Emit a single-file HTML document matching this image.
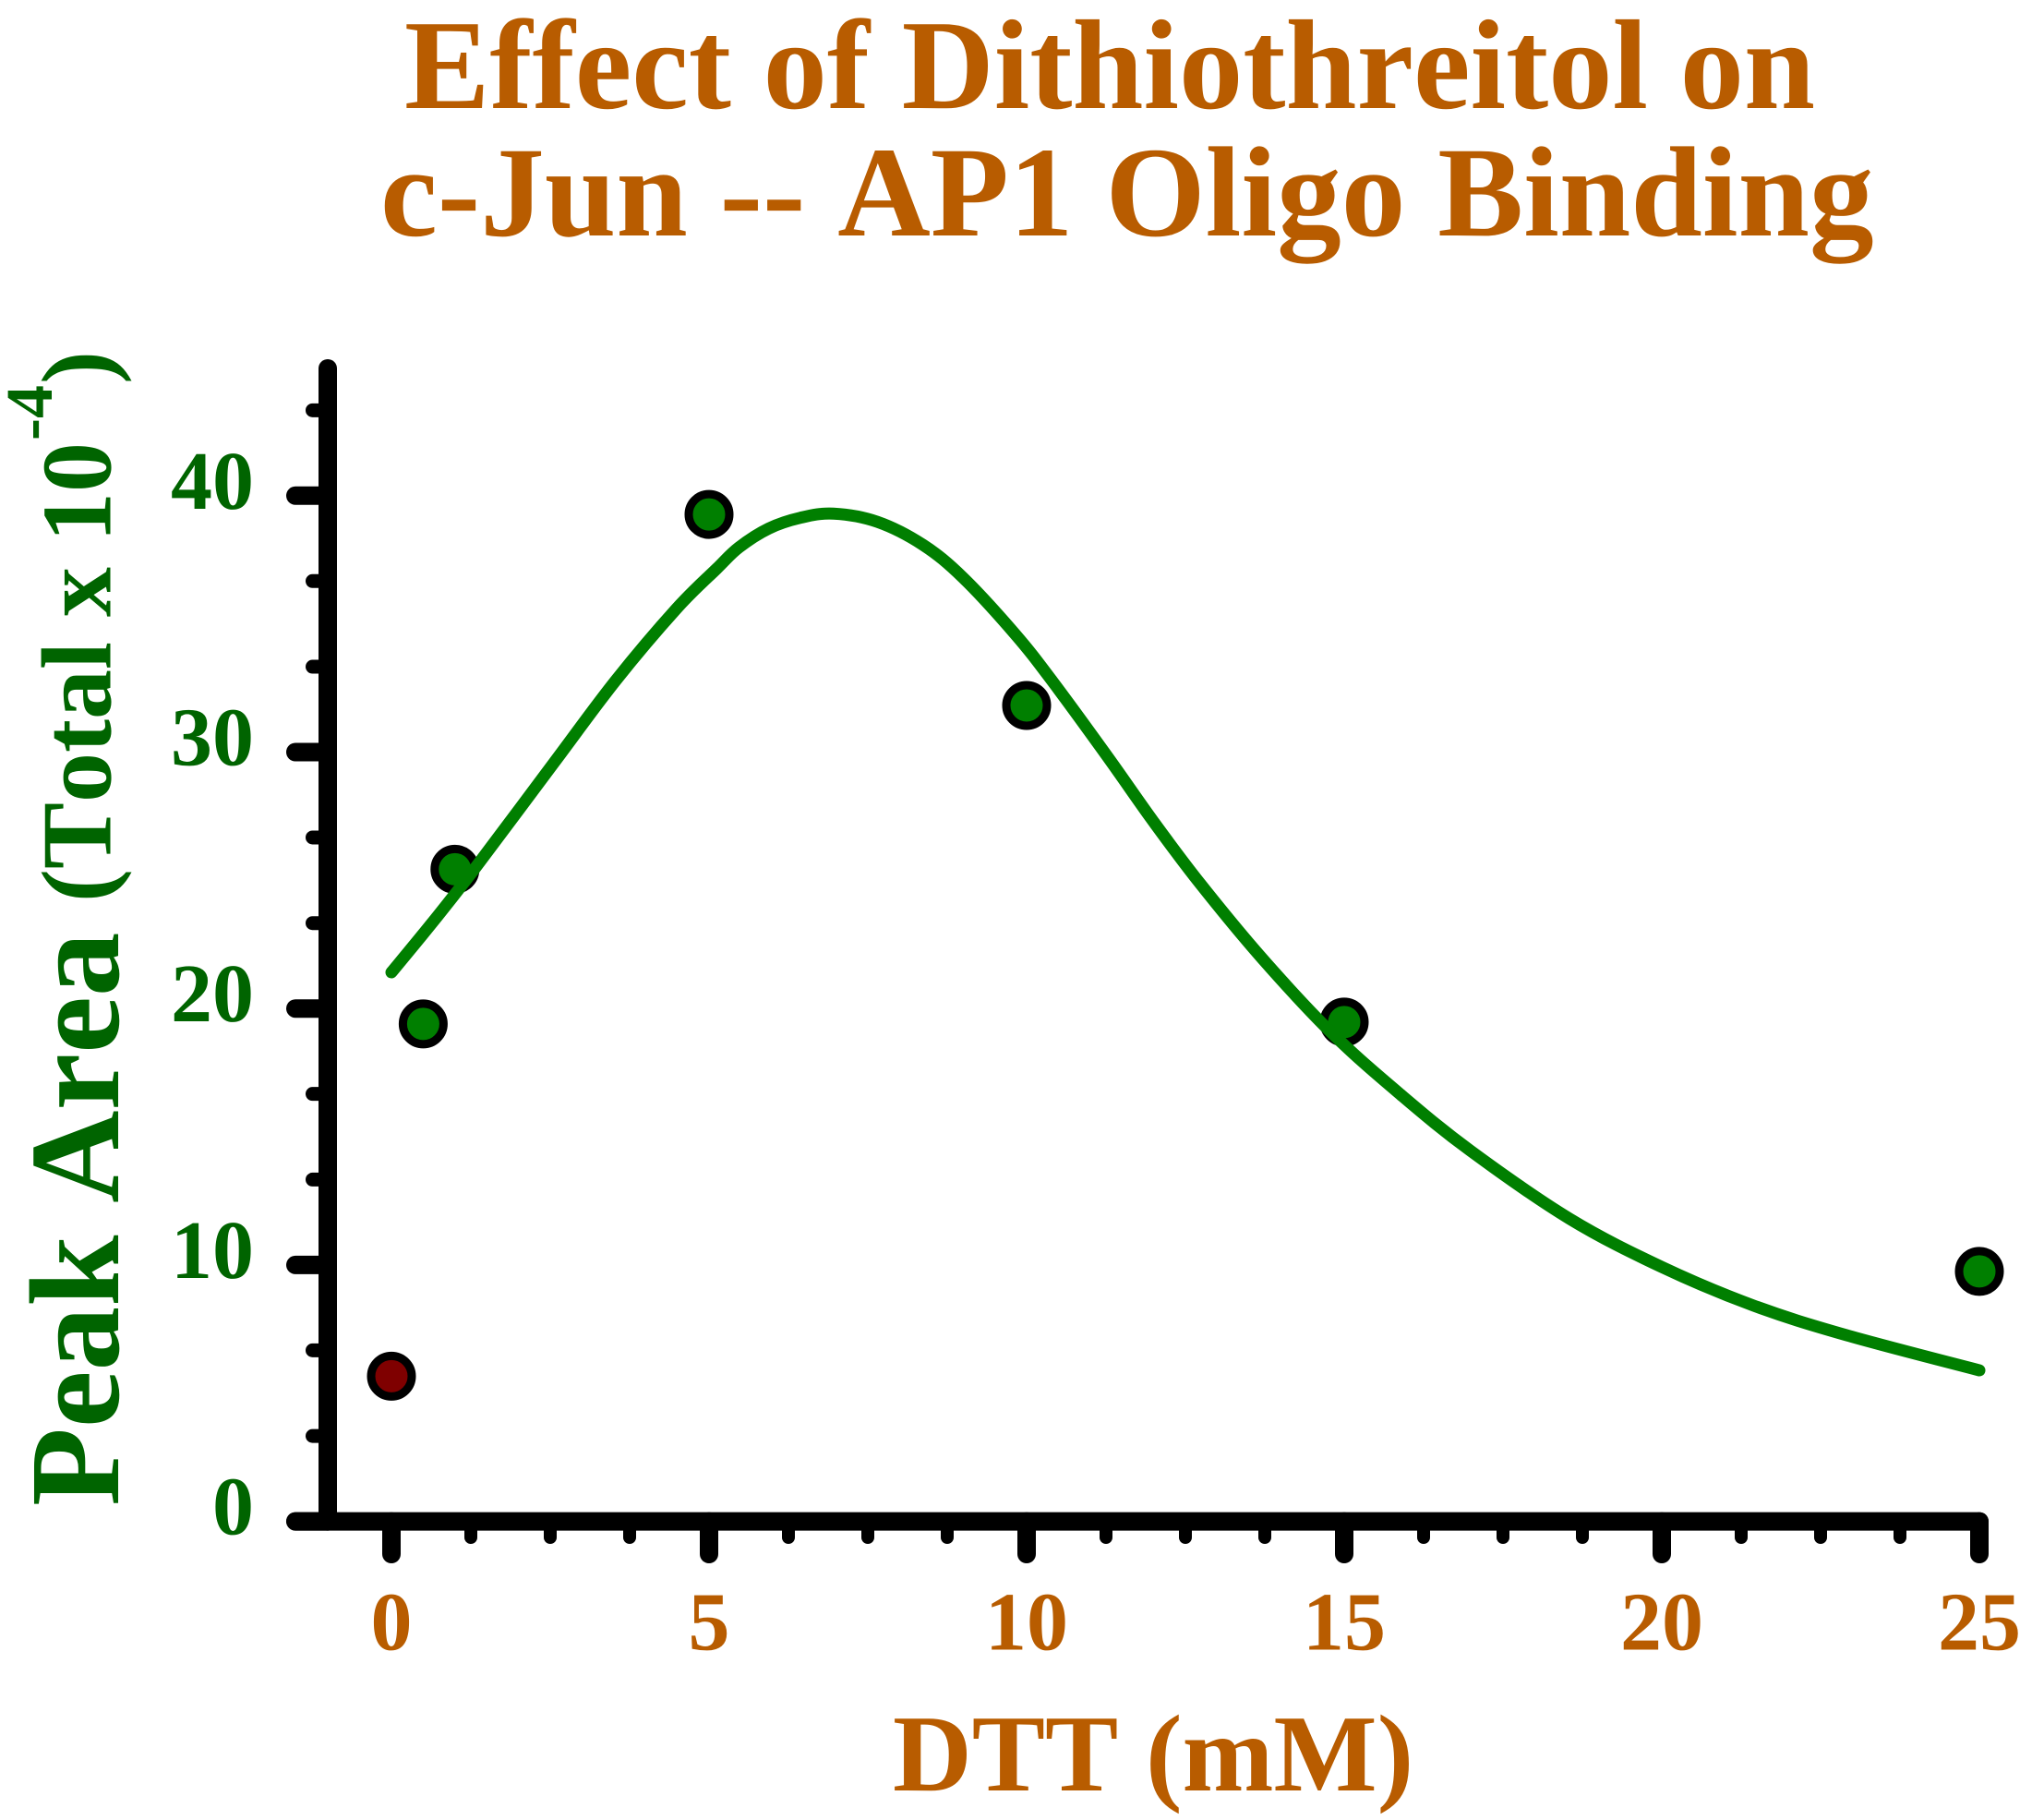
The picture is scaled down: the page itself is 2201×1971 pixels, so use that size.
<!DOCTYPE html>
<html lang="en">
<head>
<meta charset="utf-8">
<title>Effect of Dithiothreitol on c-Jun -- AP1 Oligo Binding</title>
<style>
html,body{margin:0;padding:0;background:#fff;}
svg{display:block;}
text{font-family:"Liberation Serif",serif;font-weight:bold;font-kerning:none;text-rendering:geometricPrecision;}
</style>
</head>
<body>
<svg id="chart" xmlns="http://www.w3.org/2000/svg" width="2201" height="1971" viewBox="0 0 2201 1971">
  <rect width="2201" height="1971" fill="#ffffff"/>
  <g fill="#b85c00">
    <text x="438" y="117" font-size="138.6">Effect of Dithiothreitol on</text>
    <text x="412" y="255" font-size="139.3">c-Jun -- AP1 Oligo Binding</text>
  </g>
  <g fill="#006400">
    <text transform="translate(128,1631) rotate(-90)" font-size="139">Peak Area</text>
    <text transform="translate(119.5,977) rotate(-90)" font-size="108">(Total x 10</text>
    <text transform="translate(56,477) rotate(-90)" font-size="72">-4</text>
    <text transform="translate(119.5,416) rotate(-90)" font-size="108">)</text>
  </g>
  <text x="967" y="1939" font-size="118.8" fill="#b85c00">DTT (mM)</text>
  <g id="axes"></g>
  <g id="points"></g>
  <g id="curve"></g>
</svg>
<script>
const xMajorTicks = [0, 5, 10, 15, 20, 25];
const xMinorTicks = [1.25, 2.5, 3.75, 6.25, 7.5, 8.75, 11.25, 12.5, 13.75, 16.25, 17.5, 18.75, 21.25, 22.5, 23.75];
const yMajorTicks = [0, 10, 20, 30, 40];
const yMinorTicks = [3.33, 6.67, 13.33, 16.67, 23.33, 26.67, 33.33, 36.67, 43.33];
const xTickLabels = ["0", "5", "10", "15", "20", "25"];
const yTickLabels = ["0", "10", "20", "30", "40"];
const pointX = [0, 0.5, 1, 5, 10, 15, 25];
const pointY = [5.66, 19.4, 25.43, 39.27, 31.82, 19.47, 9.75];
const pointExcluded = [true, false, false, false, false, false, false];
const curveX = [0, 0.64, 1.30, 2.56, 3.53, 4.49, 5.12, 5.47, 5.94, 6.44, 6.96, 7.65, 8.37, 9.0, 9.83, 10.41, 11.28, 12.0, 12.73, 13.71, 14.81, 15.89, 16.99, 18.55, 20.0, 21.45, 22.91, 25.0];
const curveY = [21.41, 23.34, 25.42, 29.59, 32.79, 35.60, 37.15, 37.98, 38.72, 39.14, 39.30, 38.98, 38.08, 36.80, 34.57, 32.75, 29.80, 27.28, 24.88, 21.95, 19.03, 16.64, 14.45, 11.80, 9.92, 8.41, 7.26, 5.89];

const SVG_NS = "http://www.w3.org/2000/svg";
const sx = v => 424 + v * 68.8;
const sy = v => 1647.6 - v * 27.77;

function make(parent, tag, attrs) {
  const el = document.createElementNS(SVG_NS, tag);
  for (const k in attrs) el.setAttribute(k, attrs[k]);
  parent.appendChild(el);
  return el;
}

const axes = document.getElementById("axes");
const lineX = make(axes, "line", {x1: 320, y1: sy(0), x2: sx(25), y2: sy(0), stroke: "#000", "stroke-width": 20, "stroke-linecap": "round"});


const lineY = make(axes, "line", {x1: 355, y1: 399, x2: 355, y2: sy(0), stroke: "#000", "stroke-width": 20, "stroke-linecap": "round"});



xMajorTicks.forEach((v, i) => {
  const t = make(axes, "line", {x1: sx(v), y1: sy(0), x2: sx(v), y2: 1683, stroke: "#000", "stroke-width": 20, "stroke-linecap": "round"});
  
  
  const l = make(axes, "text", {x: sx(v), y: 1786.7, "text-anchor": "middle", "font-size": 90, fill: "#b85c00"});
  l.textContent = xTickLabels[i];
  
  
});
xMinorTicks.forEach(v => {
  const t = make(axes, "line", {x1: sx(v), y1: sy(0), x2: sx(v), y2: 1665, stroke: "#000", "stroke-width": 14, "stroke-linecap": "round"});
  
  
});
yMajorTicks.forEach((v, i) => {
  const t = make(axes, "line", {x1: 355, y1: sy(v), x2: 320, y2: sy(v), stroke: "#000", "stroke-width": 20, "stroke-linecap": "round"});
  
  
  const l = make(axes, "text", {x: 275, y: sy(v) + 14, "text-anchor": "end", "font-size": 90, fill: "#006400"});
  l.textContent = yTickLabels[i];
  
  
});
yMinorTicks.forEach(v => {
  const t = make(axes, "line", {x1: 355, y1: sy(v), x2: 338.5, y2: sy(v), stroke: "#000", "stroke-width": 15, "stroke-linecap": "round"});
  
  
});

const pointsGroup = document.getElementById("points");
pointX.forEach((v, i) => {
  const c = make(pointsGroup, "circle", {cx: sx(v), cy: sy(pointY[i]), r: 22, fill: pointExcluded[i] ? "#7f0000" : "#007f00", stroke: "#000", "stroke-width": 9});
  
  
});

let d = "";
const px = curveX.map(sx);
const py = curveY.map(sy);
for (let i = 0; i < px.length; i++) {
  if (i === 0) { d += "M" + px[0] + "," + py[0]; continue; }
  const i0 = Math.max(i - 2, 0), i1 = i - 1, i2 = i, i3 = Math.min(i + 1, px.length - 1);
  const c1x = px[i1] + (px[i2] - px[i0]) / 6, c1y = py[i1] + (py[i2] - py[i0]) / 6;
  const c2x = px[i2] - (px[i3] - px[i1]) / 6, c2y = py[i2] - (py[i3] - py[i1]) / 6;
  d += "C" + c1x + "," + c1y + " " + c2x + "," + c2y + " " + px[i2] + "," + py[i2];
}
const curvePath = make(document.getElementById("curve"), "path", {d: d, fill: "none", stroke: "#007f00", "stroke-width": 13, "stroke-linecap": "round", "stroke-linejoin": "round"});


</script>
</body>
</html>
